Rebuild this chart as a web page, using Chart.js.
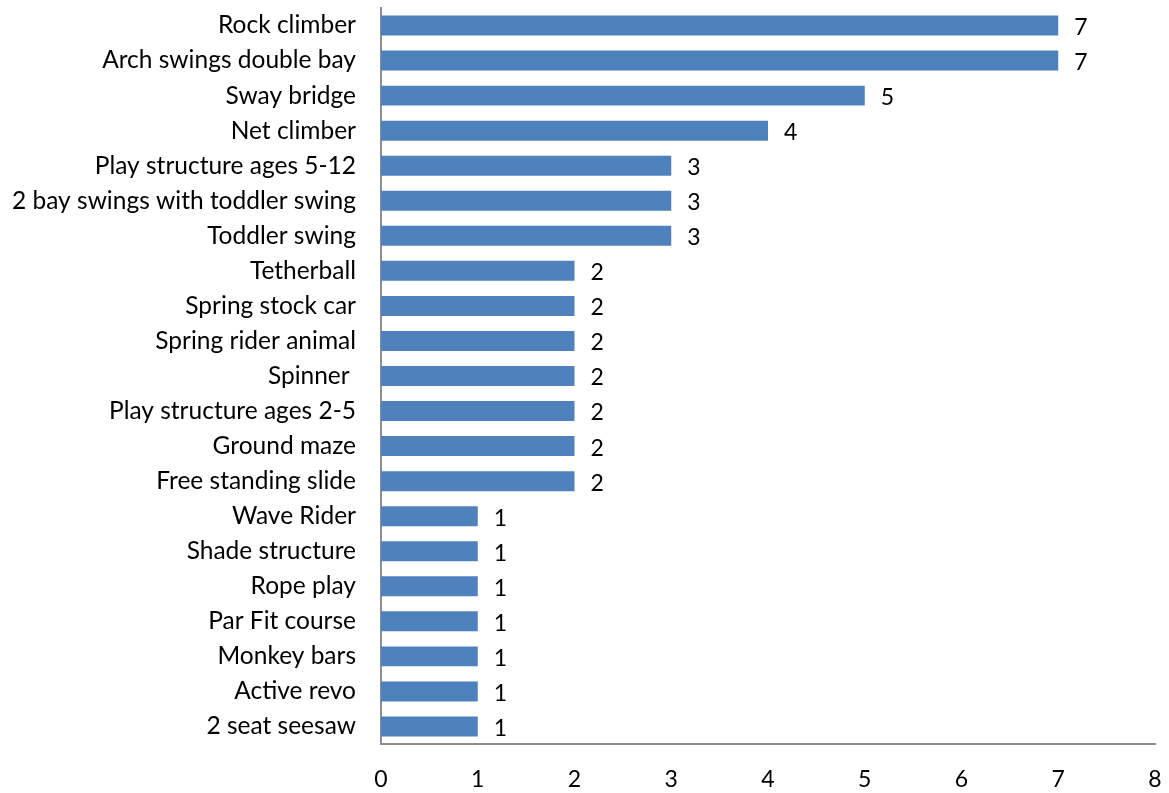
<!DOCTYPE html>
<html>
<head>
<meta charset="utf-8">
<script src="https://cdn.jsdelivr.net/npm/chart.js@4/dist/chart.umd.min.js"></script>
<style>
  html, body { margin: 0; padding: 0; background: #fff; }
  #wrap { width: 1169px; height: 793px; position: relative; }
</style>
</head>
<body>
<div id="wrap"><canvas id="chart"></canvas></div>
<script>
const equipment = [
  "Rock climber", "Arch swings double bay", "Sway bridge", "Net climber",
  "Play structure ages 5-12", "2 bay swings with toddler swing", "Toddler swing",
  "Tetherball", "Spring stock car", "Spring rider animal", "Spinner ",
  "Play structure ages 2-5", "Ground maze", "Free standing slide", "Wave Rider",
  "Shade structure", "Rope play", "Par Fit course", "Monkey bars", "Active revo",
  "2 seat seesaw",
];
const counts = [7, 7, 5, 4, 3, 3, 3, 2, 2, 2, 2, 2, 2, 2, 1, 1, 1, 1, 1, 1, 1];
const xMin = 0;
const xMax = 8;

const FONT = "Lato, 'Liberation Sans', sans-serif";
const axisGray = "#8e8e8e";

// draws the number just past the end of each bar
const valueLabels = {
  id: "valueLabels",
  afterDatasetsDraw(chart) {
    const { ctx } = chart;
    const meta = chart.getDatasetMeta(0);
    ctx.save();
    ctx.font = `23px ${FONT}`;
    ctx.fillStyle = "#000";
    ctx.textAlign = "left";
    ctx.textBaseline = "middle";
    meta.data.forEach((bar, i) => {
      ctx.fillText(String(counts[i]), bar.x + 16, bar.y + 2);
    });
    ctx.restore();
  },
};

// keep the plot area where the layout padding puts it
function noScalePadding(scale) {
  scale.paddingTop = 0;
  scale.paddingBottom = 0;
  scale.paddingLeft = 0;
  scale.paddingRight = 0;
}

const ctx = document.getElementById("chart").getContext("2d");
new Chart(ctx, {
  type: "bar",
  data: {
    labels: equipment,
    datasets: [
      {
        data: counts,
        backgroundColor: "#4f81bd",
        borderWidth: 0,
        barPercentage: 0.57,
        categoryPercentage: 1,
      },
    ],
  },
  options: {
    indexAxis: "y",
    responsive: true,
    maintainAspectRatio: false,
    animation: false,
    layout: { padding: { top: 8, right: 14, left: 0, bottom: 0 } },
    plugins: {
      legend: { display: false },
      tooltip: { enabled: false },
    },
    scales: {
      x: {
        min: xMin,
        max: xMax,
        grid: { display: false, drawTicks: false },
        border: { display: true, color: axisGray, width: 2 },
        ticks: {
          stepSize: 1,
          color: "#000",
          padding: 22,
          font: { family: FONT, size: 23 },
        },
        afterFit(scale) {
          scale.height = 49;
          noScalePadding(scale);
        },
      },
      y: {
        grid: { display: false, drawTicks: false },
        border: { display: true, color: axisGray, width: 2 },
        ticks: {
          color: "#000",
          padding: 25,
          autoSkip: false,
          font: { family: FONT, size: 24.5 },
        },
        afterFit(scale) {
          scale.width = 381;
          noScalePadding(scale);
        },
      },
    },
  },
  plugins: [valueLabels],
});
</script>
</body>
</html>
